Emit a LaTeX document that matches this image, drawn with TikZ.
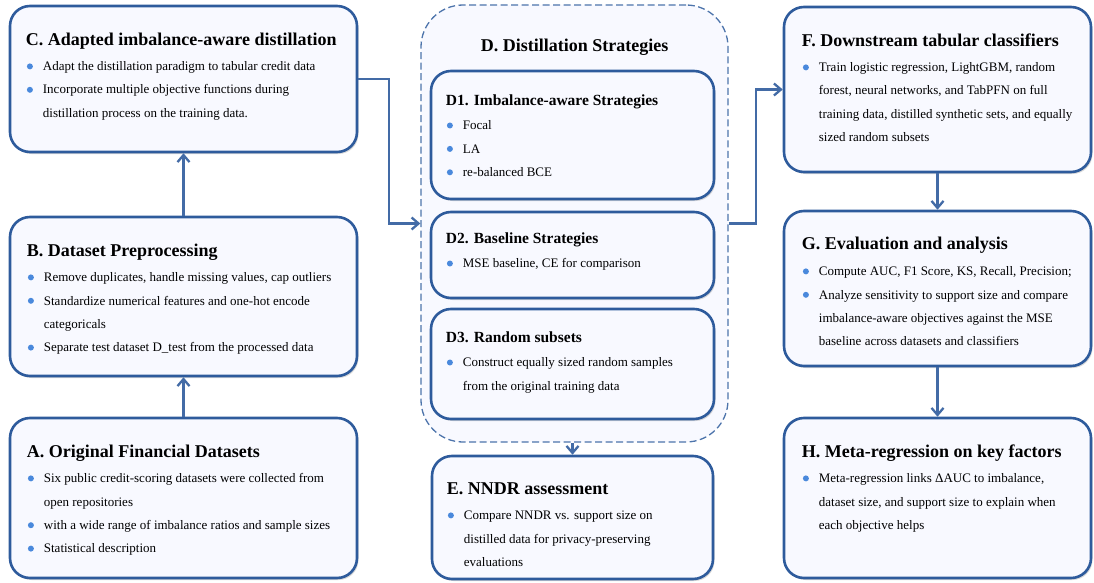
\documentclass[tikz,border=0pt]{standalone}
\usepackage{fontspec}
\setmainfont{Liberation Serif}
\usepackage{xcolor}
\usetikzlibrary{
    calc,
    shadows,
    arrows.meta,
    positioning
}
\definecolor{boxblue}{RGB}{46,91,156}
\definecolor{dotblue}{RGB}{74,137,220}
\definecolor{boxfill}{RGB}{248,249,255}
\newcommand{\bul}{\makebox[17pt][l]{\hspace{1pt}\tikz[baseline=-4.2pt]\fill[dotblue] (0,0) circle (3pt);}}
\newcommand{\cnt}{\hspace*{17pt}}
\newcommand{\ttl}{\fontsize{18}{21}\selectfont\bfseries}
\newcommand{\subttl}{\fontsize{15.5}{18}\selectfont\bfseries}

\begin{document}
\begin{tikzpicture}[x=1pt, y=-1pt,
    box/.style={draw=boxblue, line width=2.6pt, fill=boxfill, rounded corners=20pt,
        drop shadow={shadow xshift=1.5pt, shadow yshift=-2pt, opacity=0.3}},
    outer/.style={draw=boxblue!85, line width=1.3pt, dash pattern=on 7pt off 3.5pt,
        fill=boxfill, rounded corners=42pt},
    txt/.style={anchor=base west, inner sep=0pt, font=\fontsize{13}{23.4}\selectfont},
    arr/.style={draw=boxblue!90, line width=2.3pt, -{Straight Barb[length=7pt, width=12pt]}}]
                        \useasboundingbox (0,0) rectangle (1094,583);

                        \node[outer, minimum width=307, minimum height=437] (D) at (574.5, 223.5) {};
                        \node[anchor=base, font=\fontsize{18}{21}\selectfont\bfseries] (Dt) at ($(D.north)+(0,47.5)$) {D. Distillation Strategies};

                        \node[box, minimum width=347, minimum height=146] (C) at (183.5, 79) {};
                        \node[box, minimum width=347, minimum height=159] (B) at (183.5, 296.5) {};
                        \node[box, minimum width=347, minimum height=160] (A) at (183.5, 498) {};
                        \node[box, minimum width=283, minimum height=128] (D1) at (572.5, 135) {};
                        \node[box, minimum width=283, minimum height=86] (D2) at (572.5, 255) {};
                        \node[box, minimum width=283, minimum height=110] (D3) at (572.5, 364) {};
                        \node[box, minimum width=281, minimum height=123] (E) at (572.5, 517.5) {};
                        \node[box, minimum width=307, minimum height=165] (F) at (937.5, 89.5) {};
                        \node[box, minimum width=307, minimum height=155] (G) at (937.5, 288.5) {};
                        \node[box, minimum width=307, minimum height=160] (H) at (937.5, 498) {};

                        \node[txt] (Ct) at ($(C.north west)+(17,40.5)$) {\begin{tabular}[t]{@{}l@{}}
                            \ttl C. Adapted imbalance-aware distillation\\[2pt]
                            \bul Adapt the distillation paradigm to tabular credit data\\
                            \bul Incorporate multiple objective functions during\\
                            \cnt distillation process on the training data.
                        \end{tabular}};
                        \node[txt] (Bt) at ($(B.north west)+(18,40.5)$) {\begin{tabular}[t]{@{}l@{}}
                            \ttl B. Dataset Preprocessing\\[2pt]
                            \bul Remove duplicates, handle missing values, cap outliers\\
                            \bul Standardize numerical features and one-hot encode\\
                            \cnt categoricals\\
                            \bul Separate test dataset D\_test from the processed data
                        \end{tabular}};
                        \node[txt] (At) at ($(A.north west)+(18,40.5)$) {\begin{tabular}[t]{@{}l@{}}
                            \ttl A. Original Financial Datasets\\[2pt]
                            \bul Six public credit-scoring datasets were collected from\\
                            \cnt open repositories\\
                            \bul with a wide range of imbalance ratios and sample sizes\\
                            \bul Statistical description
                        \end{tabular}};
                        \node[txt] (D1t) at ($(D1.north west)+(16,35.5)$) {\begin{tabular}[t]{@{}l@{}}
                            \subttl D1. Imbalance-aware Strategies\\[1.1pt]
                            \bul Focal\\
                            \bul LA\\
                            \bul re-balanced BCE
                        \end{tabular}};
                        \node[txt] (D2t) at ($(D2.north west)+(16,32.5)$) {\begin{tabular}[t]{@{}l@{}}
                            \subttl D2. Baseline Strategies\\[1.1pt]
                            \bul MSE baseline, CE for comparison
                        \end{tabular}};
                        \node[txt] (D3t) at ($(D3.north west)+(16,34.5)$) {\begin{tabular}[t]{@{}l@{}}
                            \subttl D3. Random subsets\\[1.1pt]
                            \bul Construct equally sized random samples\\
                            \cnt from the original training data
                        \end{tabular}};
                        \node[txt] (Et) at ($(E.north west)+(16,39.5)$) {\begin{tabular}[t]{@{}l@{}}
                            \ttl E. NNDR assessment\\[2pt]
                            \bul Compare NNDR vs. support size on\\
                            \cnt distilled data for privacy-preserving\\
                            \cnt evaluations
                        \end{tabular}};
                        \node[txt] (Ft) at ($(F.north west)+(19,40.5)$) {\begin{tabular}[t]{@{}l@{}}
                            \ttl F. Downstream tabular classifiers\\[2pt]
                            \bul Train logistic regression, LightGBM, random\\
                            \cnt forest, neural networks, and TabPFN on full\\
                            \cnt training data, distilled synthetic sets, and equally\\
                            \cnt sized random subsets
                        \end{tabular}};
                        \node[txt] (Gt) at ($(G.north west)+(19,39.5)$) {\begin{tabular}[t]{@{}l@{}}
                            \ttl G. Evaluation and analysis\\[3pt]
                            \bul Compute AUC, F1 Score, KS, Recall, Precision;\\
                            \bul Analyze sensitivity to support size and compare\\
                            \cnt imbalance-aware objectives against the MSE\\
                            \cnt baseline across datasets and classifiers
                        \end{tabular}};
                        \node[txt] (Ht) at ($(H.north west)+(19,40.5)$) {\begin{tabular}[t]{@{}l@{}}
                            \ttl H. Meta-regression on key factors\\[2pt]
                            \bul Meta-regression links ΔAUC to imbalance,\\
                            \cnt dataset size, and support size to explain when\\
                            \cnt each objective helps
                        \end{tabular}};

                        \draw[arr] (A) -- (B);
                        \draw[arr] (B) -- (C);
                        \draw[arr] (C.east) -- ++(31,0) |- (D.west);
                        \draw[arr] (D.east) -- ++(27,0) |- (F.west);
                        \draw[arr] (E.north |- D.south) -- (E.north);
                        \draw[arr] (F) -- (G);
                        \draw[arr] (G) -- (H);
                    \end{tikzpicture}
\end{document}
